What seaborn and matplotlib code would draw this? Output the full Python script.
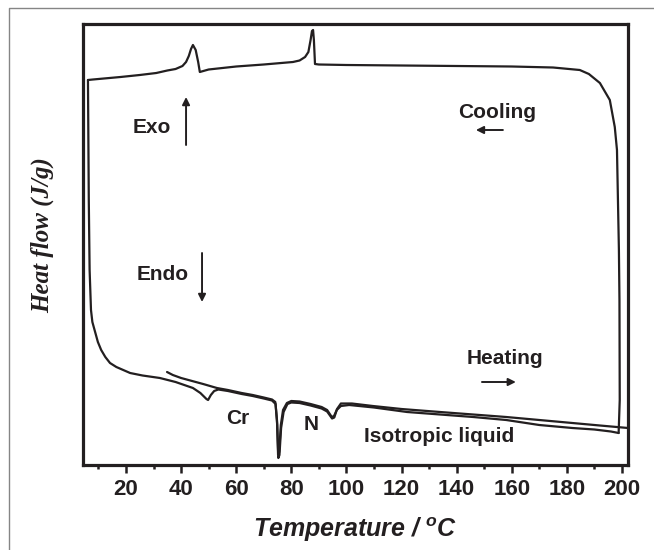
import matplotlib
matplotlib.use("Agg")
import matplotlib.pyplot as plt
from matplotlib import font_manager
from matplotlib.lines import Line2D
from matplotlib.ticker import MultipleLocator
import pandas as pd
import seaborn as sns

# --- DSC traces: temperature (°C) and heat flow (arbitrary units, exo up) ---
heating_1_T = [34.9, 37, 40, 44, 48, 53, 57, 62, 66, 70, 73, 74.2, 74.8, 75.2, 75.6,
               76.2, 77, 78.4, 80, 83, 87, 91, 93, 94.7, 95.5, 96.5, 98, 101, 110,
               122, 134, 146, 158, 170, 182, 190, 196, 198.8]
heating_1_q = [0.93, 0.90, 0.87, 0.84, 0.81, 0.77, 0.75, 0.72, 0.70, 0.675, 0.655, 0.63,
               0.45, 0.10, 0.13, 0.40, 0.55, 0.62, 0.64, 0.635, 0.61, 0.58, 0.55, 0.48,
               0.49, 0.55, 0.59, 0.60, 0.575, 0.53, 0.505, 0.48, 0.45, 0.40, 0.37,
               0.355, 0.335, 0.32]

cooling_T = [198.8, 199.2, 199.1, 198.9, 198.2, 197.4, 195.6, 192, 188, 184.7, 175, 160,
             140, 120, 100, 90, 88.6, 88.2, 87.9, 87.5, 87, 86.2, 85, 83, 80.6, 70, 60,
             50, 46.8, 46.2, 45.3, 44.3, 43.6, 42.8, 41.8, 40.5, 38, 35, 31, 25, 18, 12,
             8, 6.2]
cooling_q = [0.32, 0.65, 1.65, 2.15, 3.15, 3.38, 3.65, 3.82, 3.91, 3.95, 3.975, 3.985,
             3.99, 3.995, 4.00, 4.005, 4.01, 4.25, 4.35, 4.34, 4.25, 4.13, 4.08, 4.045,
             4.03, 4.005, 3.985, 3.955, 3.93, 4.03, 4.15, 4.20, 4.16, 4.09, 4.03, 3.99,
             3.96, 3.945, 3.92, 3.90, 3.88, 3.865, 3.855, 3.85]

heating_2_T = [6.2, 6.3, 6.5, 6.8, 7.3, 7.8, 8.8, 9.8, 11, 12.5, 14.2, 16.5, 19, 21.5,
               26, 32.3, 38, 44.3, 47, 49.2, 49.8, 50.8, 52, 53.5, 57, 62, 66, 70, 73,
               74.3, 74.9, 75.3, 75.7, 76.3, 77.2, 78.6, 80, 83, 87, 91, 93, 94.8, 95.6,
               96.6, 98, 102, 109.6, 120, 134, 146, 158, 170, 182, 192, 202.2]
heating_2_q = [3.85, 3.45, 2.65, 1.95, 1.55, 1.43, 1.33, 1.23, 1.15, 1.08, 1.02, 0.98,
               0.95, 0.92, 0.895, 0.87, 0.83, 0.77, 0.72, 0.66, 0.65, 0.70, 0.74, 0.755,
               0.74, 0.71, 0.69, 0.665, 0.645, 0.61, 0.40, 0.07, 0.10, 0.37, 0.53, 0.61,
               0.625, 0.62, 0.595, 0.565, 0.535, 0.465, 0.475, 0.56, 0.615, 0.615, 0.59,
               0.56, 0.53, 0.505, 0.48, 0.45, 0.42, 0.395, 0.37]

x_ticks = [20, 40, 60, 80, 100, 120, 140, 160, 180, 200]

sns.set_theme(style="white")
plt.rcParams["font.family"] = ["Liberation Sans", "DejaVu Sans"]
plt.rcParams["mathtext.fontset"] = "custom"
plt.rcParams["mathtext.rm"] = "Liberation Sans:bold:italic"
plt.rcParams["mathtext.it"] = "Liberation Sans:bold:italic"
plt.rcParams["mathtext.bf"] = "Liberation Sans:bold:italic"

installed = {f.name for f in font_manager.fontManager.ttflist}
tick_family = "Liberation Sans Narrow" if "Liberation Sans Narrow" in installed else "Liberation Sans"

INK = "#231f20"

fig = plt.figure(figsize=(6.54, 5.5), dpi=100)
ax = fig.add_axes([83 / 654, 85 / 550, 545 / 654, 441 / 550])

curves = [
    ("heating 1", heating_1_T, heating_1_q),
    ("cooling", cooling_T, cooling_q),
    ("heating 2", heating_2_T, heating_2_q),
]
for name, T, q in curves:
    df = pd.DataFrame({"T": T, "q": q})
    sns.lineplot(data=df, x="T", y="q", sort=False, estimator=None,
                 color=INK, lw=1.6, ax=ax)

ax.set_xlim(4.4, 202.2)
ax.set_ylim(0, 4.41)
ax.set_xlabel("")
ax.set_ylabel("")
ax.set_yticks([])
ax.set_xticks(x_ticks)
ax.set_xticklabels([str(t) for t in x_ticks])
ax.xaxis.set_minor_locator(MultipleLocator(10))
ax.tick_params(axis="x", which="major", direction="out", length=6, width=1.8,
               color=INK, pad=4, bottom=True)
ax.tick_params(axis="x", which="minor", direction="out", length=3, width=1.8,
               color=INK, bottom=True)
for lab in ax.get_xticklabels():
    lab.set_fontfamily(tick_family)
    lab.set_fontweight("bold")
    lab.set_fontsize(16)
    lab.set_color(INK)
for s in ax.spines.values():
    s.set_visible(True)
    s.set_linewidth(2.3)
    s.set_color(INK)

# phase / direction annotations
txt = dict(fontsize=15, fontweight="bold", color=INK, ha="center", va="center")
ax.text(29.4, 3.38, "Exo", **txt)
ax.text(154.6, 3.53, "Cooling", **txt)
ax.text(33.4, 1.91, "Endo", **txt)
ax.text(157.5, 1.07, "Heating", **txt)
ax.text(60.6, 0.46, "Cr", **txt)
ax.text(87.1, 0.41, "N", **txt)
ax.text(133.6, 0.28, "Isotropic liquid", **txt)

arrow = dict(arrowstyle="-|>", lw=1.4, color=INK, mutation_scale=11,
             shrinkA=0, shrinkB=0)
ax.annotate("", xy=(41.8, 3.68), xytext=(41.8, 3.20), arrowprops=arrow)
ax.annotate("", xy=(47.6, 1.63), xytext=(47.6, 2.12), arrowprops=arrow)
ax.annotate("", xy=(147.0, 3.35), xytext=(156.8, 3.35), arrowprops=arrow)
ax.annotate("", xy=(161.5, 0.83), xytext=(149.2, 0.83), arrowprops=arrow)

fig.text(355 / 654, 1 - 530 / 550, r"Temperature / $^{\mathrm{o}}$C",
         fontsize=18, fontweight="bold", style="italic", color=INK,
         ha="center", va="center")
fig.text(42 / 654, 1 - 235 / 550, "Heat flow (J/g)", rotation=90,
         family=["Liberation Serif", "DejaVu Serif"], fontsize=18,
         fontweight="bold", style="italic", color=INK, ha="center", va="center")

# thin outer frame along the top and left edges
fig.add_artist(Line2D([9 / 654, 9 / 654, 1], [0, 1 - 8 / 550, 1 - 8 / 550],
                      transform=fig.transFigure, color="#858585", lw=1.0))

fig.savefig("out.png", dpi=100)
